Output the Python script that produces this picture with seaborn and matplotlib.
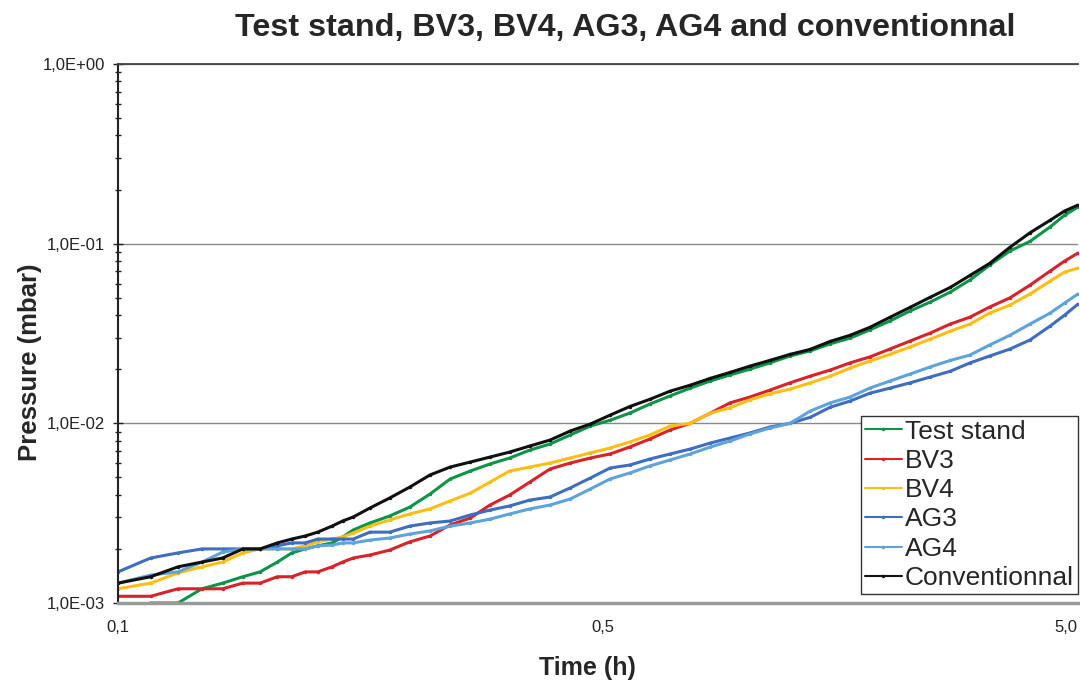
import pandas as pd
import numpy as np
import matplotlib
matplotlib.use('Agg')
import matplotlib.pyplot as plt
from matplotlib.ticker import LogLocator, FixedLocator, NullFormatter, FuncFormatter
import seaborn as sns

# x position along the time axis (0 = "0,1" h tick, 50.5 = "0,5", 98.75 = "5,0")
t_pos = [0, 3.4, 6.25, 8.75, 10.9, 13.0, 14.8, 16.6, 18.1, 19.5, 20.8, 22.3, 23.4, 24.5,
         26.25, 28.3, 30.4, 32.5, 34.6, 36.7, 38.75, 40.8, 42.9, 45.0, 47.1, 49.2, 51.25,
         53.3, 55.4, 57.5, 59.6, 61.7, 63.75, 65.8, 67.9, 70.0, 72.1, 74.2, 76.25, 78.3,
         80.4, 82.5, 84.6, 86.7, 88.75, 90.8, 92.9, 95.0, 97.1, 98.6, 100]
tick_pos = [0, 50.5, 98.75]
tick_labels = ['0,1', '0,5', '5,0']

# pressure in mbar
test_stand = [9.0e-4, 1.0e-3, 1.0e-3, 1.20e-3, 1.29e-3, 1.40e-3, 1.49e-3, 1.69e-3, 1.90e-3,
              2.00e-3, 2.08e-3, 2.16e-3, 2.33e-3, 2.55e-3, 2.79e-3, 3.05e-3, 3.42e-3, 4.04e-3,
              4.90e-3, 5.43e-3, 5.94e-3, 6.41e-3, 7.10e-3, 7.67e-3, 8.61e-3, 9.66e-3, 1.04e-2,
              1.14e-2, 1.28e-2, 1.42e-2, 1.57e-2, 1.72e-2, 1.86e-2, 2.00e-2, 2.17e-2, 2.37e-2,
              2.53e-2, 2.77e-2, 2.98e-2, 3.31e-2, 3.71e-2, 4.22e-2, 4.73e-2, 5.38e-2, 6.28e-2,
              7.60e-2, 9.10e-2, 1.03e-1, 1.24e-1, 1.44e-1, 1.60e-1]
bv3 = [1.09e-3, 1.09e-3, 1.20e-3, 1.20e-3, 1.20e-3, 1.29e-3, 1.29e-3, 1.40e-3, 1.40e-3,
       1.49e-3, 1.49e-3, 1.59e-3, 1.69e-3, 1.78e-3, 1.85e-3, 1.97e-3, 2.19e-3, 2.36e-3,
       2.72e-3, 2.97e-3, 3.51e-3, 3.99e-3, 4.71e-3, 5.57e-3, 6.01e-3, 6.41e-3, 6.75e-3,
       7.38e-3, 8.18e-3, 9.18e-3, 1.00e-2, 1.14e-2, 1.30e-2, 1.40e-2, 1.53e-2, 1.68e-2,
       1.83e-2, 1.98e-2, 2.17e-2, 2.34e-2, 2.59e-2, 2.87e-2, 3.18e-2, 3.57e-2, 3.90e-2,
       4.44e-2, 4.99e-2, 5.88e-2, 7.04e-2, 8.00e-2, 8.87e-2]
bv4 = [1.20e-3, 1.29e-3, 1.47e-3, 1.59e-3, 1.69e-3, 1.90e-3, 2.00e-3, 2.00e-3, 2.00e-3,
       2.08e-3, 2.19e-3, 2.27e-3, 2.33e-3, 2.45e-3, 2.68e-3, 2.90e-3, 3.13e-3, 3.34e-3,
       3.70e-3, 4.09e-3, 4.71e-3, 5.43e-3, 5.71e-3, 6.01e-3, 6.41e-3, 6.84e-3, 7.29e-3,
       7.87e-3, 8.61e-3, 9.66e-3, 1.00e-2, 1.14e-2, 1.22e-2, 1.35e-2, 1.46e-2, 1.55e-2,
       1.68e-2, 1.83e-2, 2.03e-2, 2.22e-2, 2.42e-2, 2.66e-2, 2.94e-2, 3.26e-2, 3.57e-2,
       4.11e-2, 4.55e-2, 5.25e-2, 6.19e-2, 6.95e-2, 7.31e-2]
ag3 = [1.49e-3, 1.78e-3, 1.90e-3, 2.00e-3, 2.00e-3, 2.00e-3, 2.00e-3, 2.08e-3, 2.16e-3,
       2.16e-3, 2.27e-3, 2.27e-3, 2.27e-3, 2.27e-3, 2.48e-3, 2.48e-3, 2.68e-3, 2.79e-3,
       2.86e-3, 3.09e-3, 3.29e-3, 3.47e-3, 3.74e-3, 3.89e-3, 4.37e-3, 4.96e-3, 5.64e-3,
       5.86e-3, 6.33e-3, 6.75e-3, 7.19e-3, 7.77e-3, 8.28e-3, 8.83e-3, 9.54e-3, 1.00e-2,
       1.08e-2, 1.23e-2, 1.33e-2, 1.47e-2, 1.57e-2, 1.68e-2, 1.81e-2, 1.95e-2, 2.17e-2,
       2.37e-2, 2.59e-2, 2.91e-2, 3.48e-2, 4.00e-2, 4.61e-2]
ag4 = [1.29e-3, 1.43e-3, 1.49e-3, 1.69e-3, 1.92e-3, 2.00e-3, 2.00e-3, 2.00e-3, 2.00e-3,
       2.00e-3, 2.08e-3, 2.10e-3, 2.16e-3, 2.16e-3, 2.24e-3, 2.30e-3, 2.42e-3, 2.52e-3,
       2.68e-3, 2.79e-3, 2.93e-3, 3.13e-3, 3.34e-3, 3.51e-3, 3.79e-3, 4.31e-3, 4.90e-3,
       5.29e-3, 5.79e-3, 6.25e-3, 6.75e-3, 7.38e-3, 7.97e-3, 8.72e-3, 9.41e-3, 1.00e-2,
       1.17e-2, 1.30e-2, 1.40e-2, 1.57e-2, 1.72e-2, 1.88e-2, 2.06e-2, 2.24e-2, 2.40e-2,
       2.73e-2, 3.09e-2, 3.57e-2, 4.11e-2, 4.67e-2, 5.25e-2]
conventionnal = [1.29e-3, 1.40e-3, 1.59e-3, 1.69e-3, 1.78e-3, 2.00e-3, 2.00e-3, 2.16e-3, 2.27e-3,
                 2.36e-3, 2.48e-3, 2.68e-3, 2.86e-3, 3.01e-3, 3.38e-3, 3.84e-3, 4.42e-3, 5.16e-3,
                 5.71e-3, 6.09e-3, 6.49e-3, 6.92e-3, 7.48e-3, 8.07e-3, 9.06e-3, 9.91e-3, 1.11e-2,
                 1.24e-2, 1.36e-2, 1.51e-2, 1.63e-2, 1.78e-2, 1.92e-2, 2.08e-2, 2.24e-2, 2.42e-2,
                 2.58e-2, 2.86e-2, 3.09e-2, 3.42e-2, 3.89e-2, 4.42e-2, 5.03e-2, 5.71e-2, 6.66e-2,
                 7.77e-2, 9.54e-2, 1.15e-1, 1.35e-1, 1.52e-1, 1.64e-1]

series = ['Test stand', 'BV3', 'BV4', 'AG3', 'AG4', 'Conventionnal']
colors = ['#0E9447', '#D8232A', '#FDBE14', '#3F6EC0', '#5FA3DC', '#111111']

rows = []
for name, vals in zip(series, [test_stand, bv3, bv4, ag3, ag4, conventionnal]):
    for t, p in zip(t_pos, vals):
        rows.append([name, t, p])
df = pd.DataFrame(rows, columns=['series', 't', 'pressure'])

sns.set_style('white')
plt.rcParams['font.family'] = ['Liberation Sans', 'DejaVu Sans']

fig = plt.figure(figsize=(10.8, 6.84), dpi=100)
ax = fig.add_axes([118 / 1080, 1 - 603 / 684, 960 / 1080, 539 / 684])

for name, c in zip(series, colors):
    sns.lineplot(data=df[df['series'] == name], x='t', y='pressure', color=c, label=name,
                 marker='o', markersize=2.5, markeredgewidth=0, linewidth=2.2, ax=ax)

ax.set_yscale('log')
ax.set_ylim(1e-3, 1)
ax.set_xlim(0, 100)

ax.yaxis.set_major_locator(LogLocator(base=10, numticks=10))
ax.yaxis.set_minor_locator(LogLocator(base=10, subs=np.arange(2, 10), numticks=10))
ax.yaxis.set_minor_formatter(NullFormatter())
ax.yaxis.set_major_formatter(FuncFormatter(lambda v, p: ('%.1E' % v).replace('.', ',')))
ax.tick_params(axis='y', which='major', direction='inout', length=7, width=1, colors='#222222',
               labelsize=12, pad=6)
ax.tick_params(axis='y', which='minor', direction='inout', length=5, width=1, colors='#222222')
ax.yaxis.set_ticks_position('left')

ax.xaxis.set_major_locator(FixedLocator(tick_pos))
ax.set_xticklabels(tick_labels)
ax.tick_params(axis='x', which='both', length=0, labelsize=12, pad=12, colors='#222222')

ax.grid(axis='y', which='major', color='#8a8a8a', linewidth=1)
ax.grid(axis='x', visible=False)

ax.spines['left'].set_color('#222222')
ax.spines['left'].set_linewidth(1.5)
ax.spines['top'].set_color('#444444')
ax.spines['top'].set_linewidth(1.3)
ax.spines['bottom'].set_color('#999999')
ax.spines['bottom'].set_linewidth(2.5)
ax.spines['right'].set_visible(False)

ax.set_xlabel('')
ax.set_ylabel('')
fig.text(587 / 1080, 1 - 668 / 684, 'Time (h)', ha='center', va='center', fontsize=18,
         fontweight='bold')
fig.text(30 / 1080, 1 - 362 / 684, 'Pressure (mbar)', ha='center', va='center', fontsize=18.5,
         fontweight='bold', rotation=90)
fig.text(625 / 1080, 1 - 28 / 684, 'Test stand, BV3, BV4, AG3, AG4 and conventionnal',
         ha='center', va='center', fontsize=23.2, fontweight='bold')

leg = ax.legend(loc='lower right', bbox_to_anchor=(1078 / 1080, 1 - 594 / 684),
                bbox_transform=fig.transFigure, fontsize=19, frameon=True, fancybox=False,
                framealpha=1, edgecolor='#333333', handlelength=1.4, handletextpad=0.12,
                labelspacing=0.2, borderpad=0.15, borderaxespad=0)
leg.get_frame().set_linewidth(1)
for h in leg.get_lines():
    h.set_linewidth(1.5)

fig.savefig('out.png', dpi=100)
